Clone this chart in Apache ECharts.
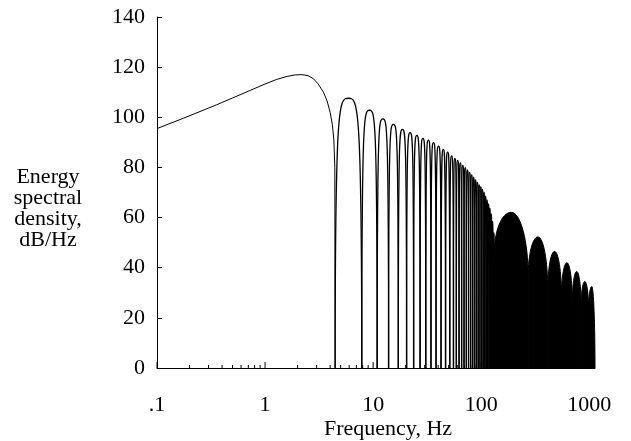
<!DOCTYPE html>
<html><head><meta charset="utf-8">
<script src="https://cdn.jsdelivr.net/npm/echarts@6/dist/echarts.min.js"></script>
<style>html,body{margin:0;padding:0;background:#fff}#c{width:631px;height:441px}</style>
</head><body><div id="c"></div>
<script>
// ---- data ----
// main lobe (Hz, dB)
const mainLobeHz = [0.1, 0.175, 0.25, 0.357, 0.5, 0.726, 1.0, 1.28, 1.6, 1.9, 2.2, 2.5, 2.8, 3.1, 3.47, 3.75, 4.0, 4.2, 4.33, 4.42, 4.45];
const mainLobeDb = [95.5, 99.6, 102.3, 105.0, 107.7, 110.7, 113.3, 115.1, 116.3, 116.9, 117.0, 116.6, 115.4, 113.3, 110.0, 106.5, 102.0, 97.0, 91.0, 80.0, 0];
// fine side lobes: notch frequencies (Hz) and the peak level of each lobe between two notches (dB)
const fineNotchHz = [4.45, 7.85, 10.9, 13.9, 17.1, 20.4, 23.7, 27.2, 30.7, 34.3, 38.2, 42.5, 46.8, 51.2, 55.4, 58.9, 62.4, 65.9, 69.4, 72.9, 76.4, 79.9, 83.4, 86.9, 90.4, 93.9, 97.4, 100.9, 104.4, 107.9, 111.4, 114.9, 118.4, 121.9, 125.4, 128.9, 132.4];
const finePeakDb = [107.6, 102.8, 99.4, 97.2, 95.2, 93.9, 92.8, 91.6, 90.9, 89.9, 88.5, 87.2, 86.1, 84.6, 83.6, 82.8, 81.8, 80.8, 79.9, 79.0, 78.0, 77.0, 76.0, 75.0, 74.0, 73.0, 72.2, 71.2, 70.0, 68.5, 67.0, 65.5, 63.8, 61.5, 58.5, 54.0];
// high-frequency envelope lobes (appear solid): notch frequencies, notch depth, lobe peaks
const bigNotchHz = [132.4, 272, 413, 553, 697, 840, 985, 1130];
const bigNotchDb = [46, 36.5, 31, 28.5, 26, 24.5, 23, 0];
const bigPeakDb = [62.1, 52.3, 46.5, 42.0, 38.5, 34.5, 32.5];
// axes
const xTickHz = [0.1, 1, 10, 100, 1000];
const xTickLabels = ['.1', '1', '10', '100', '1000'];
const xMinorTickHz = [0.2,0.3,0.4,0.5,0.6,0.7,0.8,0.9, 2,3,4,5,6,7,8,9, 20,30,40,50,60,70,80,90, 200,300,400,500,600,700,800,900];
const yTicks = [0, 20, 40, 60, 80, 100, 120, 140];
const xTitle = 'Frequency, Hz';
const yTitle = ['Energy', 'spectral', 'density,', 'dB/Hz'];

// ---- build ----
const FONT = 'Liberation Serif';
const mainData = mainLobeHz.map((f, i) => [f, mainLobeDb[i]]);
const fineData = finePeakDb.map((p, i) => [fineNotchHz[i], fineNotchHz[i + 1], p]);
const bigData = bigPeakDb.map((p, i) => [bigNotchHz[i], bigNotchHz[i + 1], bigNotchDb[i], bigNotchDb[i + 1], p]);
const tickData = xTickHz.map(v => [v, 1]).concat(xMinorTickHz.map(v => [v, 0]));

// narrow arch between two notches (open stroke)
function archPath(l, r, y0, yP) {
  const hw = (r - l) / 2, xm = l + hw;
  return `M${l},${y0}C${l},${yP} ${l + 0.3 * hw},${yP} ${xm},${yP}` +
         `C${r - 0.3 * hw},${yP} ${r},${yP} ${r},${y0}`;
}
// dome between two shallow notches, filled down to the baseline
function domePath(l, r, yL, yR, yP, base) {
  const hw = (r - l) / 2, xm = l + hw, k = 0.552;
  return `M${l},${base}L${l},${yL}` +
    `C${l},${yL - k * (yL - yP)} ${xm - k * hw},${yP} ${xm},${yP}` +
    `C${xm + k * hw},${yP} ${r},${yR - k * (yR - yP)} ${r},${yR}` +
    `L${r},${base}Z`;
}

const chart = echarts.init(document.getElementById('c'), null, {renderer: 'canvas'});
chart.setOption({
  animation: false,
  backgroundColor: '#fff',
  grid: {left: 157, right: 36, top: 17, bottom: 73},
  xAxis: {
    type: 'log', logBase: 10, min: 0.1, max: 1130,
    axisLine: {show: true, lineStyle: {color: '#000', width: 1}},
    axisTick: {show: false},
    splitLine: {show: false},
    axisLabel: {
      margin: 26, color: '#000', fontFamily: FONT, fontSize: 22,
      showMaxLabel: false,
      formatter: v => {
        for (let i = 0; i < xTickHz.length; i++) if (Math.abs(v - xTickHz[i]) < 1e-6 * xTickHz[i]) return xTickLabels[i];
        return '';
      }
    }
  },
  yAxis: {
    type: 'value', min: yTicks[0], max: yTicks[yTicks.length - 1], interval: 20,
    axisLine: {show: true, lineStyle: {color: '#000', width: 1}},
    axisTick: {show: true, inside: true, length: 5, lineStyle: {color: '#000'}},
    splitLine: {show: false},
    axisLabel: {margin: 12, color: '#000', fontFamily: FONT, fontSize: 22}
  },
  graphic: [
    {type: 'text', x: 388, y: 429, style: {text: xTitle, fill: '#000', font: `22px "${FONT}"`, textAlign: 'center', textVerticalAlign: 'middle'}},
    {type: 'text', x: 48, y: 209, style: {text: yTitle.join('\n'), fill: '#000', font: `22px "${FONT}"`, lineHeight: 21, textAlign: 'center', textVerticalAlign: 'middle'}}
  ],
  series: [
    {
      type: 'line', data: mainData, showSymbol: false, silent: true,
      lineStyle: {color: '#000', width: 1}
    },
    {
      type: 'custom', data: fineData, silent: true,
      renderItem: (params, api) => {
        const l = api.coord([api.value(0), 0]);
        const r = api.coord([api.value(1), 0]);
        const p = api.coord([api.value(0), api.value(2)]);
        return {type: 'path', shape: {pathData: archPath(l[0], r[0], l[1], p[1])},
          style: {fill: null, stroke: '#000', lineWidth: 1.3}};
      }
    },
    {
      type: 'custom', data: bigData, silent: true,
      renderItem: (params, api) => {
        const l = api.coord([api.value(0), api.value(2)]);
        const r = api.coord([api.value(1), api.value(3)]);
        const p = api.coord([api.value(0), api.value(4)]);
        const base = api.coord([api.value(0), 0])[1];
        return {type: 'path', shape: {pathData: domePath(l[0], r[0], l[1], r[1], p[1], base)},
          style: {fill: '#000', stroke: '#000', lineWidth: 1}};
      }
    },
    {
      type: 'custom', data: tickData, silent: true, z: 5,
      renderItem: (params, api) => {
        const a = api.coord([api.value(0), 0]);
        const len = api.value(1) ? 6 : 3;
        return {type: 'line', shape: {x1: a[0], y1: a[1], x2: a[0], y2: a[1] - len},
          style: {stroke: '#000', lineWidth: 1}};
      }
    }
  ]
});
</script></body></html>
